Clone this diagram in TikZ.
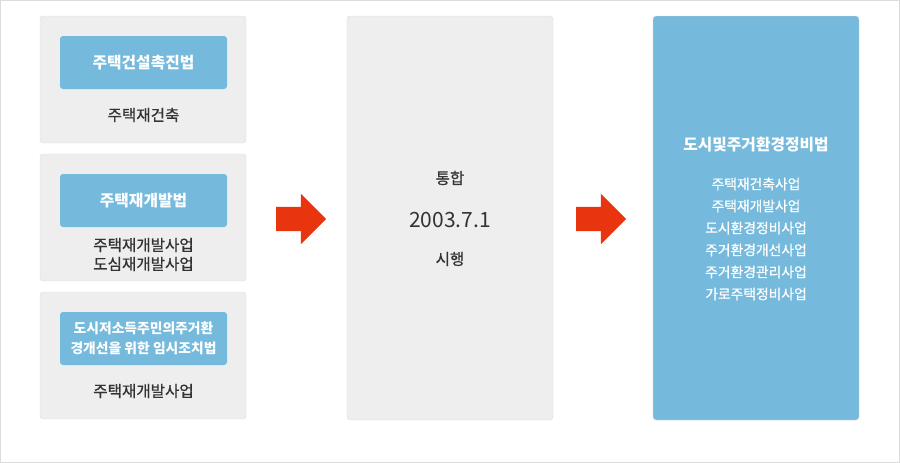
\documentclass[tikz,border=0pt]{standalone}
\usepackage{fontspec}
\setmainfont{Noto Sans CJK KR}
\newfontfamily\medfont[FakeBold=0.7]{Noto Sans CJK KR}
\usetikzlibrary{shapes.arrows}

\definecolor{boxgray}{HTML}{EEEEEE}
\definecolor{boxline}{HTML}{DCDCDC}
\definecolor{lawblue}{HTML}{75BADC}
\definecolor{arrowred}{HTML}{E8340F}
\definecolor{textdark}{HTML}{333333}

\tikzset{
    gray box/.style={rectangle, draw=boxline, fill=boxgray, rounded corners=3pt, inner sep=0, minimum width=206pt},
    law box/.style={rectangle, fill=lawblue, rounded corners=3pt, inner sep=0, minimum width=167pt, minimum height=53pt,
        text=white, font=\fontsize{15.8}{20}\selectfont\bfseries, align=center},
    law small/.style={font=\fontsize{13.8}{20}\selectfont\bfseries},
    dark text/.style={text=textdark, font=\fontsize{15.6}{19}\selectfont\medfont, align=center, inner sep=0},
    list text/.style={text=white, font=\fontsize{13.8}{22}\selectfont\medfont, align=center, inner sep=0},
    big arrow/.style={single arrow, fill=arrowred, draw=none, inner xsep=0, inner ysep=12pt, text height=0pt, text depth=0pt,
        minimum height=50pt, single arrow head extend=13pt, single arrow tip angle=90, shape border rotate=0}
    }

\begin{document}
\begin{tikzpicture}[x=1pt, y=-1pt]
    \useasboundingbox (0,0) rectangle (900,463);
    \draw[boxline] (0.5,0.5) rectangle (899.5,462.5);

    \node(box1)[gray box, minimum height=127pt] at (143,79.5) {};
    \node(law1)[law box] at (143.5,62.5) {주택건설촉진법};
    \node(text1)[dark text] at (143.5,115) {주택재건축};

    \node(box2)[gray box, minimum height=127pt] at (143,217.5) {};
    \node(law2)[law box] at (143.5,200.5) {주택재개발법};
    \node(text2)[dark text] at (143.5,254.5) {주택재개발사업\\도심재개발사업};

    \node(box3)[gray box, minimum height=127pt] at (143,355.5) {};
    \node(law3)[law box, law small] at (143.5,338.5) {도시저소득주민의주거환\\경개선을 위한 임시조치법};
    \node(text3)[dark text] at (143.5,391) {주택재개발사업};

    \node(arrow1)[big arrow] at (295,219) {};

    \node(merge)[gray box, minimum height=404pt] at (450,218) {};
    \node(merge1)[dark text] at (450,178) {통합};
    \node(date)[dark text, font=\fontsize{21}{24}\selectfont] at (450,220) {2003.7.1};
    \node(merge2)[dark text] at (450,259) {시행};

    \node(arrow2)[big arrow] at (595,219) {};

    \node(act)[gray box, fill=lawblue, minimum height=404pt] at (756,218) {};
    \node(actname)[list text, font=\fontsize{15.8}{20}\selectfont\bfseries] at (756,145) {도시및주거환경정비법};
    \node(projects)[list text] at (756,239) {주택재건축사업\\주택재개발사업\\도시환경정비사업\\주거환경개선사업\\주거환경관리사업\\가로주택정비사업};
\end{tikzpicture}
\end{document}
